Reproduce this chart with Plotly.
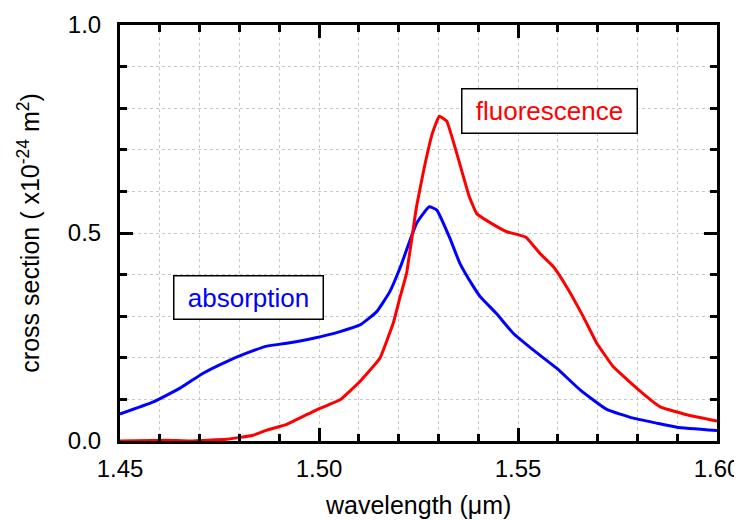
import plotly.graph_objects as go

# absorption (blue)
abs_wl = [1.4500, 1.4584, 1.4651, 1.4709, 1.4768, 1.4818, 1.4869, 1.4919, 1.4986, 1.5053,
          1.5103, 1.5145, 1.5178, 1.5204, 1.5245, 1.5277, 1.5296, 1.5329, 1.5354, 1.5388,
          1.5405, 1.5447, 1.5488, 1.5538, 1.5597, 1.5656, 1.5723, 1.5790, 1.5848, 1.5899, 1.6000]
abs_cs = [0.065, 0.094, 0.127, 0.163, 0.191, 0.211, 0.228, 0.235, 0.247, 0.263,
          0.279, 0.311, 0.359, 0.417, 0.523, 0.563, 0.555, 0.487, 0.427, 0.371,
          0.347, 0.305, 0.259, 0.219, 0.175, 0.123, 0.076, 0.055, 0.043, 0.033, 0.025]

# fluorescence (red)
flu_wl = [1.4500, 1.4617, 1.4676, 1.4768, 1.4835, 1.4869, 1.4919, 1.4994, 1.5053, 1.5103,
          1.5153, 1.5187, 1.5204, 1.5220, 1.5245, 1.5264, 1.5285, 1.5302, 1.5321, 1.5346,
          1.5377, 1.5396, 1.5430, 1.5472, 1.5520, 1.5555, 1.5589, 1.5622, 1.5664, 1.5698,
          1.5739, 1.5798, 1.5857, 1.5924, 1.6000]
flu_cs = [0.000, 0.002, 0.000, 0.004, 0.014, 0.026, 0.040, 0.075, 0.099, 0.143,
          0.199, 0.285, 0.347, 0.403, 0.563, 0.655, 0.740, 0.781, 0.769, 0.692,
          0.589, 0.547, 0.525, 0.503, 0.490, 0.451, 0.419, 0.371, 0.299, 0.235,
          0.179, 0.127, 0.082, 0.063, 0.048]

x_ticks = [1.45, 1.50, 1.55, 1.60]
y_ticks = [0.0, 0.5, 1.0]

FONT = "Arial, Liberation Sans, sans-serif"

fig = go.Figure()
fig.add_trace(go.Scatter(x=abs_wl, y=abs_cs, mode="lines",
                         line=dict(color="#0000ff", width=3, shape="spline", smoothing=0.4),
                         showlegend=False, cliponaxis=True))
fig.add_trace(go.Scatter(x=flu_wl, y=flu_cs, mode="lines",
                         line=dict(color="#ff0000", width=3, shape="spline", smoothing=0.3),
                         showlegend=False, cliponaxis=True))

GRID = "#c8c8c8"
axis_common = dict(
    showline=True, linecolor="black", linewidth=3, mirror="allticks",
    ticks="inside", tickcolor="black", tickwidth=3, ticklen=13,
    showgrid=True, gridcolor=GRID, griddash="dot", gridwidth=1,
    zeroline=False, automargin=False,
    tickfont=dict(family=FONT, size=24, color="black"),
)

fig.update_xaxes(
    range=[1.45, 1.60], tickvals=x_ticks, ticktext=[f"{v:.2f}" for v in x_ticks],
    minor=dict(dtick=0.01, tick0=1.45, ticks="inside", ticklen=7, tickwidth=2.5, tickcolor="black",
               showgrid=True, gridcolor=GRID, griddash="dot", gridwidth=1),
    ticklabelstandoff=4,
    **axis_common,
)
fig.update_yaxes(
    range=[0.0, 1.0], tickvals=y_ticks, ticktext=[f"{v:.1f}" for v in y_ticks],
    minor=dict(dtick=0.1, tick0=0, ticks="inside", ticklen=7, tickwidth=2.5, tickcolor="black",
               showgrid=True, gridcolor=GRID, griddash="dot", gridwidth=1),
    ticklabelstandoff=11,
    **axis_common,
)

# axis titles
fig.add_annotation(x=0.499, y=-0.154, xref="paper", yref="paper", text="wavelength (μm)",
                   showarrow=False, xanchor="center", yanchor="middle",
                   font=dict(family=FONT, size=25, color="black"))
fig.add_annotation(x=-0.153, y=0.5, xref="paper", yref="paper",
                   text="cross section ( x10<sup>-24</sup> m<sup>2</sup>)",
                   showarrow=False, textangle=-90, xanchor="center", yanchor="middle",
                   font=dict(family=FONT, size=25, color="black"))

# labels in boxes
fig.add_annotation(x=1.4822, y=0.346, xref="x", yref="y", text="absorption", showarrow=False,
                   font=dict(family=FONT, size=26, color="#0000ff"),
                   bordercolor="black", borderwidth=1.5, borderpad=2, bgcolor="white",
                   width=144, height=38)
fig.add_annotation(x=1.5580, y=0.794, xref="x", yref="y", text="fluorescence", showarrow=False,
                   font=dict(family=FONT, size=26, color="#ff0000"),
                   bordercolor="black", borderwidth=1.5, borderpad=2, bgcolor="white",
                   width=170, height=39)

# page body has an 8px margin, so the figure is 8px smaller and offset accordingly
fig.update_layout(
    width=734, height=512,
    margin=dict(l=112, r=25, t=17, b=79),
    plot_bgcolor="white", paper_bgcolor="white",
    font=dict(family=FONT),
)

fig.write_html("out.html")
